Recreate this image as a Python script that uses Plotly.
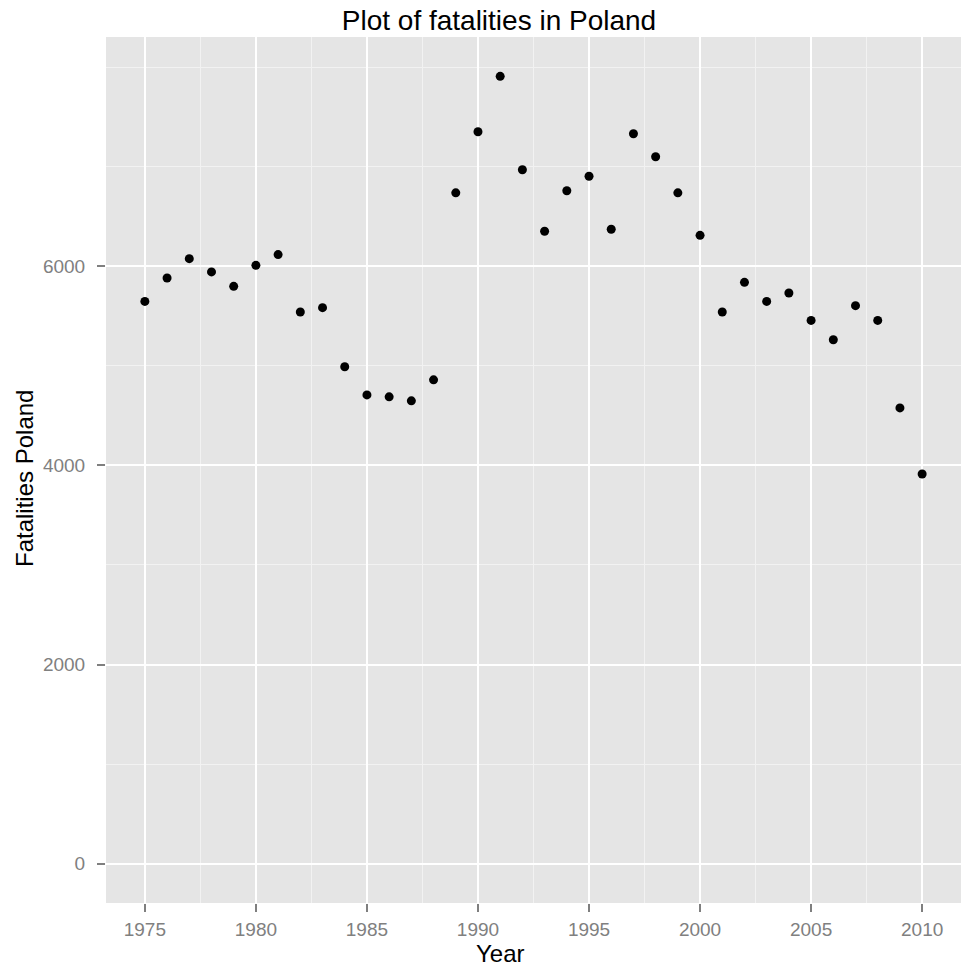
import plotly.graph_objects as go

years = list(range(1975, 2011))
fatalities = [5647, 5882, 6076, 5943, 5798, 6009, 6117, 5540, 5584, 4990,
              4708, 4688, 4648, 4859, 6737, 7351, 7907, 6969, 6351, 6758,
              6904, 6371, 7331, 7100, 6737, 6310, 5540, 5838, 5647, 5731,
              5456, 5262, 5604, 5456, 4577, 3913]

x_ticks = [1975, 1980, 1985, 1990, 1995, 2000, 2005, 2010]
x_minor = [1972.5, 1977.5, 1982.5, 1987.5, 1992.5, 1997.5, 2002.5, 2007.5, 2012.5]
y_ticks = [0, 2000, 4000, 6000]
y_minor = [1000, 3000, 5000, 7000, 8000]

FONT = "Liberation Sans, Arial, sans-serif"

xspan = max(years) - min(years)
xr = [min(years) - 0.05 * xspan, max(years) + 0.05 * xspan]
ymax = max(fatalities)
yr = [-0.05 * ymax, 1.05 * ymax]

fig = go.Figure()
fig.add_trace(go.Scatter(
    x=years, y=fatalities, mode="markers",
    marker=dict(color="black", size=9),
    hoverinfo="x+y", showlegend=False,
))

axis_common = dict(
    showline=False, zeroline=False,
    gridcolor="white", gridwidth=1.6,
    ticks="outside", ticklen=8, tickwidth=1.5, tickcolor="#7F7F7F",
    tickfont=dict(family=FONT, size=19, color="#808080"),
)

fig.update_xaxes(
    range=xr, tickmode="array", tickvals=x_ticks,
    ticktext=[str(v) for v in x_ticks],
    ticklabelstandoff=1,
    minor=dict(tickmode="array", tickvals=x_minor, showgrid=True,
               gridcolor="#F2F2F2", gridwidth=0.8, ticks=""),
    **axis_common,
)
fig.update_yaxes(
    range=yr, tickmode="array", tickvals=y_ticks,
    ticktext=[str(v) for v in y_ticks],
    ticklabelstandoff=8,
    minor=dict(tickmode="array", tickvals=y_minor, showgrid=True,
               gridcolor="#F2F2F2", gridwidth=0.8, ticks=""),
    **axis_common,
)

fig.update_layout(
    width=961, height=968,
    margin=dict(l=106, r=0, t=37, b=65, pad=0),
    paper_bgcolor="white", plot_bgcolor="#E5E5E5",
    title=dict(text="Plot of fatalities in Poland",
               font=dict(family=FONT, size=28, color="black"),
               xref="container", yref="container",
               x=499 / 961, xanchor="center",
               y=1 - 20 / 968, yanchor="middle"),
    annotations=[
        dict(text="Year", xref="paper", yref="paper",
             x=(500 - 106) / 855, y=(903 - 954) / 866,
             xanchor="center", yanchor="middle", showarrow=False,
             font=dict(family=FONT, size=24, color="black")),
        dict(text="Fatalities Poland", xref="paper", yref="paper",
             x=(24 - 106) / 855, y=(903 - 479) / 866, textangle=-90,
             xanchor="center", yanchor="middle", showarrow=False,
             font=dict(family=FONT, size=24, color="black")),
    ],
)

fig.write_html(
    "out.html",
    config={"displayModeBar": False},
    post_script="document.body.style.margin='0';document.body.style.overflow='hidden';",
)
